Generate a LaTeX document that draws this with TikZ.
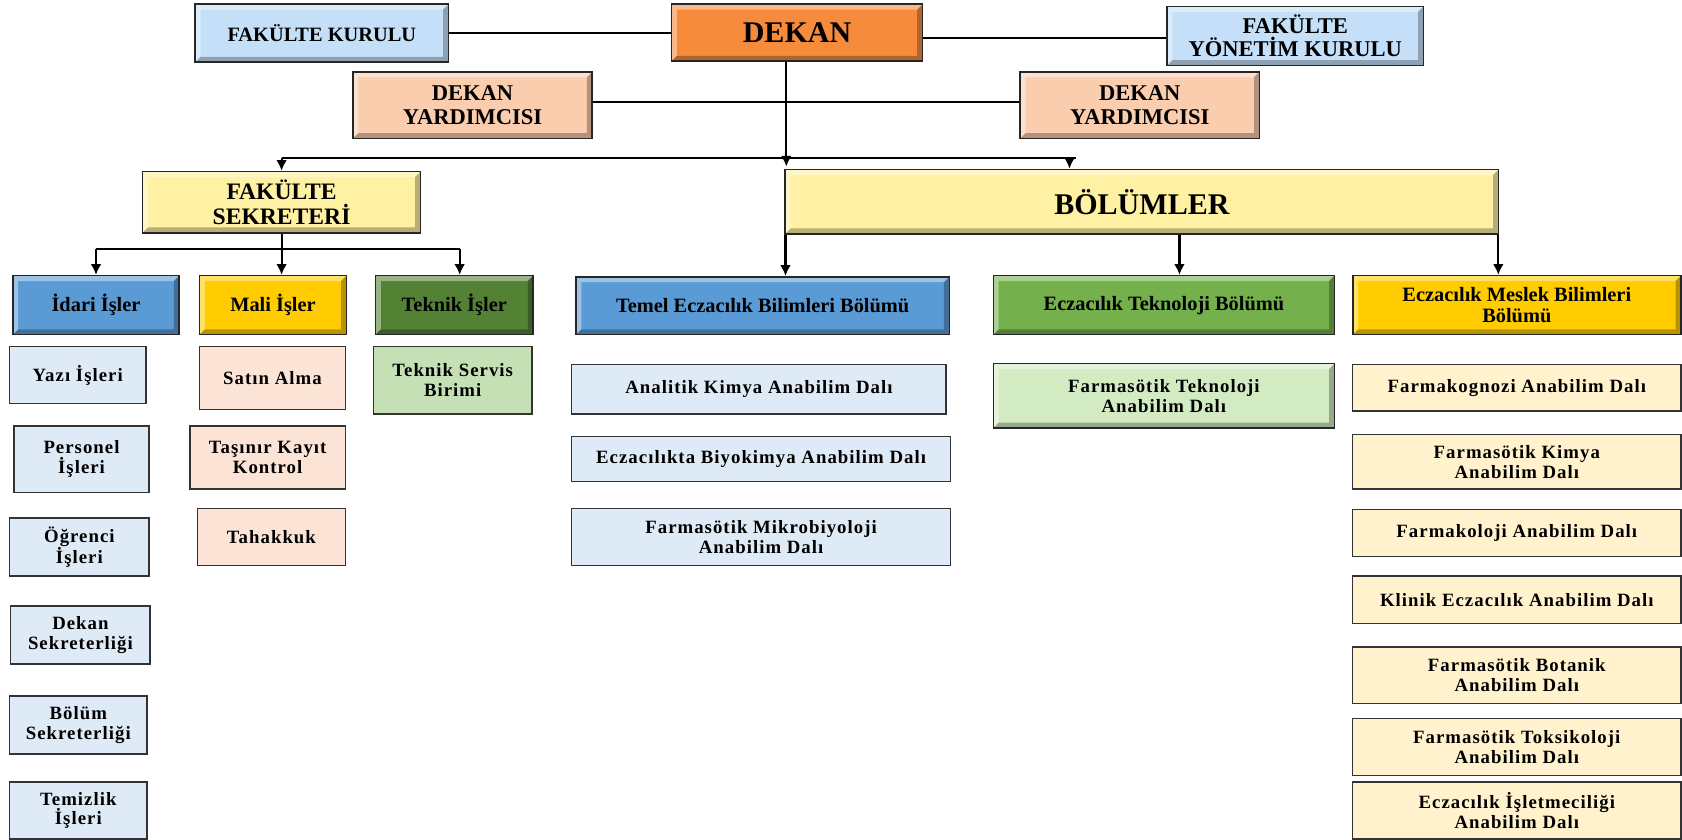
\documentclass[tikz,border=0pt]{standalone}
\usepackage{fontspec}
\setmainfont{Liberation Serif}
\newfontfamily\spaced[LetterSpace=5.5]{Liberation Serif}
\usepackage{tikz}
\usetikzlibrary{arrows.meta}

\definecolor{kurulblue}{HTML}{C5DFF8}
\definecolor{dekanorange}{HTML}{F68B3C}
\definecolor{yardpeach}{HTML}{F9CDAE}
\definecolor{sekyellow}{HTML}{FFF1A3}
\definecolor{unitblue}{HTML}{5B9BD5}
\definecolor{unitgold}{HTML}{FFCC00}
\definecolor{unitgreen}{HTML}{548235}
\definecolor{tekgreen}{HTML}{74B04B}
\definecolor{leafblue}{HTML}{DEEAF6}
\definecolor{leafpeach}{HTML}{FBE4D5}
\definecolor{leafgreen}{HTML}{C5E0B4}
\definecolor{farmgreen}{HTML}{D2EBC3}
\definecolor{leafcream}{HTML}{FFF2CC}

\begin{document}
\begin{tikzpicture}[x=1pt,y=-1pt,
	boxbase/.style={inner sep=0pt, align=center, text=black},
	wh/.style 2 args={minimum width=#1, minimum height=#2},
	bevelbox/.style={boxbase, draw=black!85, line width=1.5pt, fill=#1,
		path picture={
			\coordinate (pnw) at (path picture bounding box.north west);
			\coordinate (pse) at (path picture bounding box.south east);
			\fill[white,opacity=.4] (pnw) -- (pnw -| pse) -- ([shift={(-5pt,-5pt)}]pnw -| pse) -- ([shift={(5pt,-5pt)}]pnw) -- ([shift={(5pt,5pt)}]pnw |- pse) -- (pnw |- pse) -- cycle;
			\fill[black,opacity=.28] (pse) -- (pse |- pnw) -- ([shift={(-5pt,-5pt)}]pse |- pnw) -- ([shift={(-5pt,5pt)}]pse) -- ([shift={(5pt,5pt)}]pnw |- pse) -- (pnw |- pse) -- cycle;
		}},
	chiefbox/.style={bevelbox=#1, font=\bfseries\fontsize{21}{22}\selectfont},
	headbox/.style={bevelbox=#1, font=\bfseries\fontsize{19}{19.5}\selectfont},
	leafbox/.style={boxbase, draw=black!80, line width=1.3pt, fill=#1, font=\spaced\bfseries\fontsize{17.5}{18.5}\selectfont},
	conn/.style={draw=black, line width=2pt},
	arr/.style={conn, -{Latex[length=10pt,width=10pt]}}]

	\useasboundingbox (0,0) rectangle (1568,783);

	\node[chiefbox=kurulblue, wh={236}{54}, font=\bfseries\fontsize{19}{20}\selectfont] (fk) at (300,31) {FAKÜLTE KURULU};
	\node[chiefbox=dekanorange, wh={234}{53}, font=\bfseries\fontsize{28}{30}\selectfont] (dekan) at (743,30.5) {DEKAN};
	\node[chiefbox=kurulblue, wh={239}{55}] (fyk) at (1207.5,33.5) {FAKÜLTE\\YÖNETİM KURULU};
	\node[chiefbox=yardpeach, wh={223}{62}] (dy1) at (440.5,98) {DEKAN\\YARDIMCISI};
	\node[chiefbox=yardpeach, wh={223}{62}] (dy2) at (1062.5,98) {DEKAN\\YARDIMCISI};
	\node[chiefbox=sekyellow, wh={259}{57}, font=\bfseries\fontsize{22}{23}\selectfont] (fs) at (262.5,188.5) {FAKÜLTE\\SEKRETERİ};
	\node[chiefbox=sekyellow, wh={665}{60}, font=\bfseries\fontsize{28}{30}\selectfont] (bol) at (1064.5,188) {BÖLÜMLER};

	\node[headbox=unitblue, wh={155}{55}] (idari) at (89.5,284.5) {İdari İşler};
	\node[headbox=unitgold, wh={137}{55}] (mali) at (254.5,284.5) {Mali İşler};
	\node[headbox=unitgreen, wh={147}{55}] (teknik) at (423.5,284.5) {Teknik İşler};
	\node[headbox=unitblue, wh={348}{54}] (temel) at (711,285) {Temel Eczacılık Bilimleri Bölümü};
	\node[headbox=tekgreen, wh={318}{55}] (ecztek) at (1085,284.5) {Eczacılık Teknoloji Bölümü};
	\node[headbox=unitgold, wh={306}{55}] (eczmes) at (1414,284.5) {Eczacılık Meslek Bilimleri\\Bölümü};

	\node[leafbox=leafblue, wh={127}{53}] (yazi) at (72.5,349.5) {Yazı İşleri};
	\node[leafbox=leafblue, wh={126}{62}] (personel) at (76,428) {Personel\\İşleri};
	\node[leafbox=leafblue, wh={130}{54}] (ogrenci) at (74,510) {Öğrenci\\İşleri};
	\node[leafbox=leafblue, wh={130}{54}] (dekansek) at (75,592) {Dekan\\Sekreterliği};
	\node[leafbox=leafblue, wh={128}{54}] (bolumsek) at (73,676) {Bölüm\\Sekreterliği};
	\node[leafbox=leafblue, wh={128}{53}] (temizlik) at (73,755.5) {Temizlik\\İşleri};

	\node[leafbox=leafpeach, wh={136}{59}] (satin) at (254,352.5) {Satın Alma};
	\node[leafbox=leafpeach, wh={145}{59}] (tasinir) at (249.5,426.5) {Taşınır Kayıt\\Kontrol};
	\node[leafbox=leafpeach, wh={138}{53}] (tahakkuk) at (253,500.5) {Tahakkuk};

	\node[leafbox=leafgreen, wh={148}{63}] (servis) at (422,354.5) {Teknik Servis\\Birimi};

	\node[leafbox=leafblue, wh={349}{46}] (analitik) at (707.5,363) {Analitik Kimya Anabilim Dalı};
	\node[leafbox=leafblue, wh={353}{42}] (biyokimya) at (709.5,428) {Eczacılıkta Biyokimya Anabilim Dalı};
	\node[leafbox=leafblue, wh={353}{53}] (mikro) at (709.5,500.5) {Farmasötik Mikrobiyoloji\\Anabilim Dalı};

	\node[bevelbox=farmgreen, wh={318}{60}, font=\spaced\bfseries\fontsize{17.5}{18.5}\selectfont] (farmtek) at (1085,369) {Farmasötik Teknoloji\\Anabilim Dalı};

	\node[leafbox=leafcream, wh={306}{43}] (farmakognozi) at (1414,361.5) {Farmakognozi Anabilim Dalı};
	\node[leafbox=leafcream, wh={306}{51}] (fkimya) at (1414,430.5) {Farmasötik Kimya\\Anabilim Dalı};
	\node[leafbox=leafcream, wh={306}{44}] (farmakoloji) at (1414,497) {Farmakoloji Anabilim Dalı};
	\node[leafbox=leafcream, wh={306}{44}] (klinik) at (1414,559) {Klinik Eczacılık Anabilim Dalı};
	\node[leafbox=leafcream, wh={306}{53}] (botanik) at (1414,629.5) {Farmasötik Botanik\\Anabilim Dalı};
	\node[leafbox=leafcream, wh={306}{53}] (toksik) at (1414,696.5) {Farmasötik Toksikoloji\\Anabilim Dalı};
	\node[leafbox=leafcream, wh={306}{53}] (isletme) at (1414,755.5) {Eczacılık İşletmeciliği\\Anabilim Dalı};

	\draw[conn] (fk.east) -- (fk.east -| dekan.west);
	\draw[conn] ([yshift=-5pt]dekan.east) -- ([yshift=-5pt]dekan.east -| fyk.west);
	\draw[conn] ([yshift=3pt]dy1.east) -- ([yshift=3pt]dy1.east -| dy2.west);

	\coordinate (dk) at ([xshift=-10pt]dekan.south);
	\coordinate (busL) at (fs.north |- 0,147);
	\coordinate (busR) at (1003,147);
	\draw[conn] (busL) -- (busR);
	\draw[arr] (dk) -- ([yshift=2pt]dk |- bol.north);
	\draw[arr] (busL) -- (fs.north);
	\draw[arr] ([xshift=-6pt]busR) -- ([xshift=-6pt]busR |- bol.north);

	\coordinate (fsbus) at ([yshift=-14pt]fs.south);
	\draw[conn] (fs.south) -- (fsbus);
	\draw[conn] (idari.north |- fsbus) -- ([xshift=5pt]teknik.north |- fsbus);
	\draw[arr] (idari.north |- fsbus) -- (idari.north);
	\draw[arr] (fsbus) -- (fsbus |- mali.north);
	\draw[arr] ([xshift=5pt]teknik.north |- fsbus) -- ([xshift=5pt]teknik.north);

	\draw[arr] ([xshift=1pt]bol.south west) -- ([xshift=1pt]bol.south west |- temel.north);
	\draw[arr] ([xshift=35pt]bol.south) -- ([xshift=35pt]bol.south |- ecztek.north);
	\draw[arr] ([xshift=-1pt]bol.south east) -- ([xshift=-1pt]bol.south east |- eczmes.north);
\end{tikzpicture}
\end{document}
